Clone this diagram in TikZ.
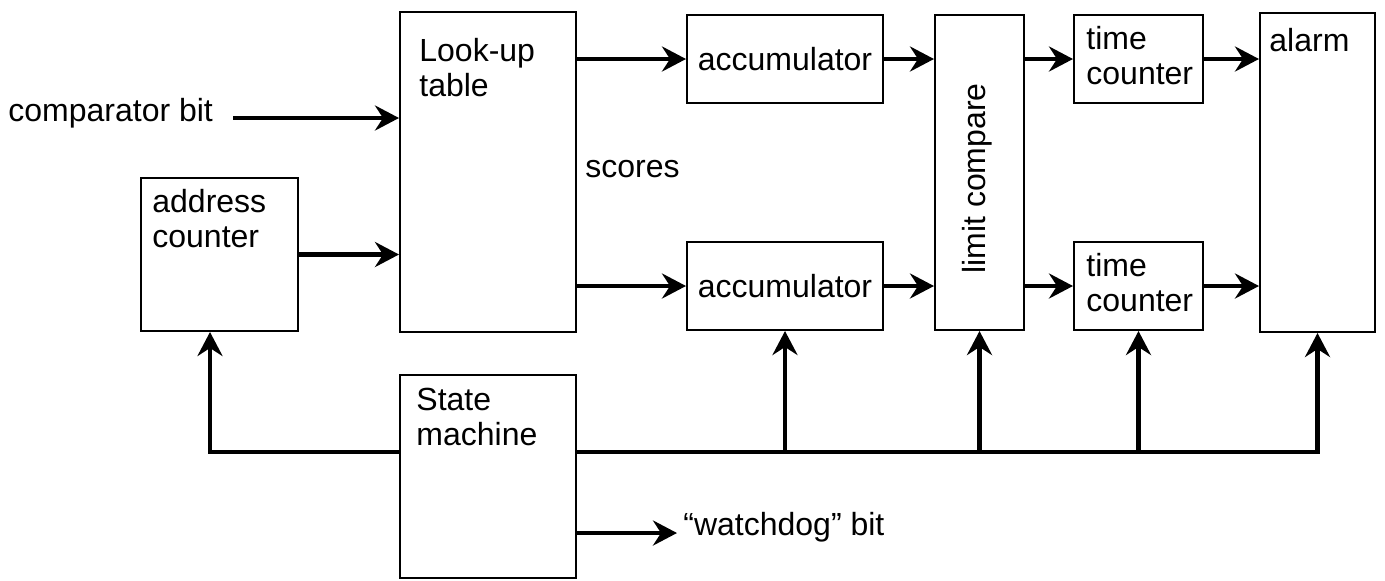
\documentclass[tikz,border=0pt]{standalone}
\usepackage{fontspec}
\setmainfont{Liberation Sans}
\usetikzlibrary{arrows.meta}

\begin{document}
\begin{tikzpicture}[x=0.5pt,y=-0.5pt,
    every node/.style={font=\fontsize{16}{17.5}\selectfont},
    box/.style={draw,line width=1pt,inner sep=0pt},
    tl/.style={anchor=north west,align=left,inner sep=0pt},
    arr/.style={line width=2.4pt,-{Stealth[length=12pt,width=12.5pt,inset=4pt]}}]

    \useasboundingbox (0,0) rectangle (1385,580);

    % blocks
    \node[box,minimum width=88pt,minimum height=160pt,
        label={[tl,xshift=10pt,yshift=-13.5pt]north west:Look-up\\table}] (lut) at (488,172) {};
    \node[box,minimum width=78.5pt,minimum height=76.5pt,
        label={[tl,xshift=6pt,yshift=-6pt]north west:address\\counter}] (addr) at (219.5,254.5) {};
    \node[box,minimum width=98pt,minimum height=44pt] (acc1) at (785,59) {accumulator};
    \node[box,minimum width=98pt,minimum height=44pt] (acc2) at (785,286) {accumulator};
    \node[box,minimum width=44.5pt,minimum height=157.5pt,
        label={[rotate=90,xshift=-3pt,yshift=1pt]center:limit compare}] (lim) at (979.5,172.5) {};
    \node[box,minimum width=64.5pt,minimum height=44pt,
        label={[tl,xshift=6.5pt,yshift=-6pt]north west:time\\counter}] (tc1) at (1138.5,59) {};
    \node[box,minimum width=64.5pt,minimum height=44pt,
        label={[tl,xshift=6.5pt,yshift=-6pt]north west:time\\counter}] (tc2) at (1138.5,286) {};
    \node[box,minimum width=57.5pt,minimum height=159.5pt,
        label={[tl,xshift=5pt,yshift=-8pt]north west:alarm}] (alarm) at (1317.5,172.5) {};
    \node[box,minimum width=88pt,minimum height=101.5pt,
        label={[tl,xshift=8.5pt,yshift=-7pt]north west:State\\machine}] (sm) at (488,476.5) {};

    % free texts
    \node[anchor=base west,inner sep=0pt] (cmp) at (8,121.5) {comparator bit};
    \node[anchor=base west,inner sep=0pt] (scores) at (585,177) {scores};
    \node[anchor=base west,inner sep=0pt] (wd) at (683,535) {“watchdog” bit};
    \coordinate (cmpout) at (233,118);
    \coordinate (wdin) at (677,533);
    \coordinate (busL) at (210,452);

    % arrows
    \draw[arr] (cmpout) -- (cmpout -| lut.west);
    \draw[arr] (addr.east) -- (addr.east -| lut.west);
    \draw[arr] (lut.east |- acc1) -- (acc1.west);
    \draw[arr] (lut.east |- acc2) -- (acc2.west);
    \draw[arr] (acc1.east) -- (acc1.east -| lim.west);
    \draw[arr] (acc2.east) -- (acc2.east -| lim.west);
    \draw[arr] (lim.east |- tc1) -- (tc1.west);
    \draw[arr] (lim.east |- tc2) -- (tc2.west);
    \draw[arr] (tc1.east) -- (tc1.east -| alarm.west);
    \draw[arr] (tc2.east) -- (tc2.east -| alarm.west);
    \draw[arr] (sm.east |- wdin) -- (wdin);

    % control bus
    \draw[arr] (sm.west |- busL) -- (busL) -- (busL |- addr.south);
    \draw[arr] (sm.east |- busL) -| (alarm.south);
    \foreach \n in {acc2,lim,tc2}
        \draw[arr] (\n.south |- busL) -- (\n.south);
\end{tikzpicture}
\end{document}
